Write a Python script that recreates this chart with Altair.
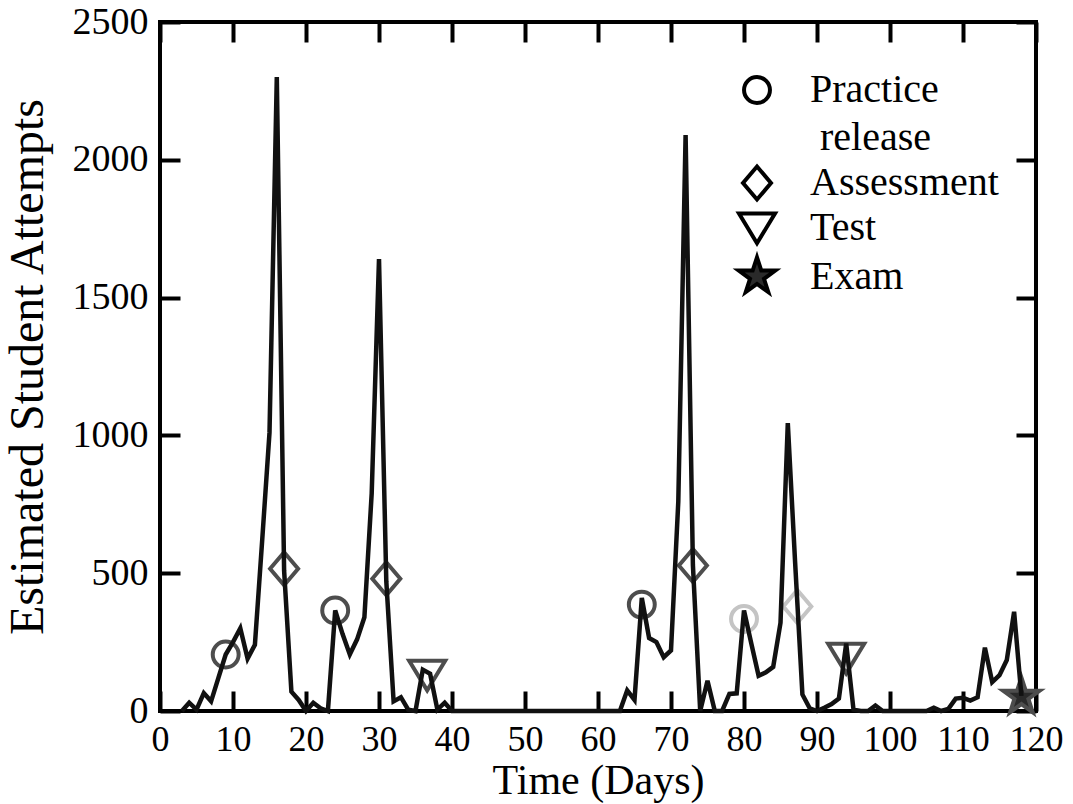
import altair as alt
import pandas as pd

# ---- data ----
days = [3, 4, 5, 6, 7, 8, 9, 10, 11, 12,
        13, 14, 15, 16, 17, 18, 19, 20, 21, 22,
        23, 24, 25, 26, 27, 28, 29, 30, 31, 32,
        33, 34, 35, 36, 37, 38, 39, 40, 41, 42,
        43, 44, 45, 46, 47, 48, 49, 50, 51, 52,
        53, 54, 55, 56, 57, 58, 59, 60, 61, 62,
        63, 64, 65, 66, 67, 68, 69, 70, 71, 72,
        73, 74, 75, 76, 77, 78, 79, 80, 81, 82,
        83, 84, 85, 86, 87, 88, 89, 90, 91, 92,
        93, 94, 95, 96, 97, 98, 99, 100, 101, 102,
        103, 104, 105, 106, 107, 108, 109, 110, 111, 112,
        113, 114, 115, 116, 117, 118]
attempts = [0, 30, 5, 65, 35, 120, 205, 250, 300, 190,
            240, 620, 1010, 2300, 510, 70, 40, 0, 30, 10,
            0, 365, 280, 205, 260, 340, 790, 1640, 470, 35,
            50, 5, 0, 150, 135, 5, 30, 0, 0, 0,
            0, 0, 0, 0, 0, 0, 0, 0, 0, 0,
            0, 0, 0, 0, 0, 0, 0, 0, 0, 0,
            0, 75, 40, 410, 265, 250, 195, 220, 760, 2090,
            530, 0, 110, 0, 0, 62, 64, 365, 245, 128,
            140, 160, 320, 1045, 540, 60, 10, 0, 12, 25,
            45, 245, 5, 0, 0, 20, 0, 0, 0, 0,
            0, 0, 0, 12, 0, 8, 45, 48, 38, 50,
            230, 105, 130, 185, 360, 55]

practice_days = [9, 24, 66, 80]
practice_attempts = [205, 365, 386, 334]
practice_tone = ["dark", "dark", "dark", "light"]

assessment_days = [17, 31, 73, 87.3]
assessment_attempts = [516, 480, 528, 379]
assessment_tone = ["dark", "dark", "dark", "light"]

test_days = [36.6, 94]
test_attempts = [130, 192]
test_tone = ["dark", "dark"]

exam_days = [118]
exam_attempts = [52]
exam_tone = ["dark"]

legend_entries = ["Practice release", "release", "Assessment", "Test", "Exam"]
x_ticks = [0, 10, 20, 30, 40, 50, 60, 70, 80, 90, 100, 110, 120]
y_ticks = [0, 500, 1000, 1500, 2000, 2500]

# ---- tables ----
line_df = pd.DataFrame({"day": days, "attempts": attempts})
marker_df = pd.DataFrame({
    "day": practice_days + assessment_days + test_days + exam_days,
    "attempts": practice_attempts + assessment_attempts + test_attempts + exam_attempts,
    "event": (["Practice release"] * len(practice_days) + ["Assessment"] * len(assessment_days)
              + ["Test"] * len(test_days) + ["Exam"] * len(exam_days)),
    "tone": practice_tone + assessment_tone + test_tone + exam_tone,
})

# ---- styling ----
SERIF = "Liberation Serif"
CIRCLE = "M0.81,0A0.81,0.81,0,1,1,-0.81,0A0.81,0.81,0,1,1,0.81,0Z"
BLANK = "M0,-1.35L0,-1.35M0,1.0L0,1.0"
DIAMOND = "M0,-1.03L0.875,0L0,1.03L-0.875,0Z"
TRI_DOWN = "M-1.125,-0.9L1.125,-0.9L0,0.95Z"
STAR = ("M0,-1.2L0.27,-0.372L1.141,-0.371L0.437,0.142L0.705,0.971L0,0.46"
        "L-0.705,0.971L-0.437,0.142L-1.141,-0.371L-0.27,-0.372Z")

x_scale = alt.Scale(domain=[0, 120], nice=False, zero=False)
y_scale = alt.Scale(domain=[0, 2500], nice=False)

tick_common = dict(offset=-20, tickSize=20, tickWidth=4, tickColor="black",
                   domain=False, grid=False)

bottom_axis = alt.Axis(orient="bottom", values=x_ticks, title="Time (Days)", format="d",
                       labelFont=SERIF, labelFontSize=36, labelColor="black", labelPadding=11,
                       labelFlush=False, labelOverlap=False,
                       titleFont=SERIF, titleFontSize=42, titleFontWeight="normal",
                       titleColor="black", titlePadding=3, **tick_common)
left_axis = alt.Axis(orient="left", values=y_ticks, title="Estimated Student Attempts", format="d",
                     labelFont=SERIF, labelFontSize=38, labelColor="black", labelPadding=12,
                     labelFlush=False, labelOverlap=False,
                     titleFont=SERIF, titleFontSize=48, titleFontWeight="normal",
                     titleColor="black", titlePadding=20, **tick_common)
top_axis = alt.Axis(orient="top", values=x_ticks, labels=False, title=None, **tick_common)
right_axis = alt.Axis(orient="right", values=y_ticks, labels=False, title=None, **tick_common)

legend = alt.Legend(
    title=None, orient="none", legendX=577, legendY=48, direction="vertical", padding=0,
    labelExpr="datum.label == 'Practice release' ? 'Practice' : "
              "(datum.label == 'release' ? '\\u200b\\u00a0release' : datum.label)",
    labelFont=SERIF, labelFontSize=40, labelColor="black", labelLimit=500, labelOffset=33,
    symbolSize=1024, symbolStrokeWidth=4, symbolStrokeColor="black",
    symbolFillColor="transparent", rowPadding=-3.5,
)

points = alt.Chart(marker_df).mark_point(filled=False, strokeWidth=4, size=1024, opacity=1).encode(
    x=alt.X("day:Q", scale=x_scale, axis=top_axis),
    y=alt.Y("attempts:Q", scale=y_scale, axis=right_axis),
    shape=alt.Shape("event:N", scale=alt.Scale(domain=legend_entries,
                                                range=[CIRCLE, BLANK, DIAMOND, TRI_DOWN, STAR]),
                    legend=legend),
    fill=alt.Fill("event:N", scale=alt.Scale(domain=legend_entries,
                                              range=["transparent", "transparent", "transparent",
                                                     "transparent", "#2a2a2a"]),
                  legend=legend),
    stroke=alt.Stroke("tone:N", scale=alt.Scale(domain=["dark", "light"],
                                                 range=["#4d4d4d", "#c4c4c4"]), legend=None),
)

line = alt.Chart(line_df).mark_line(color="#111111", strokeWidth=4.5).encode(
    x=alt.X("day:Q", scale=x_scale, axis=bottom_axis),
    y=alt.Y("attempts:Q", scale=y_scale, axis=left_axis),
)

chart = alt.layer(points, line).resolve_axis(x="independent", y="independent").properties(
    width=876, height=689,
    autosize=alt.AutoSizeParams(type="none"),
    padding={"left": 160, "top": 22, "right": 37, "bottom": 93},
    background="white",
).configure_view(stroke="black", strokeWidth=4)

chart.save("out.html", embed_options={"renderer": "svg", "actions": False})
